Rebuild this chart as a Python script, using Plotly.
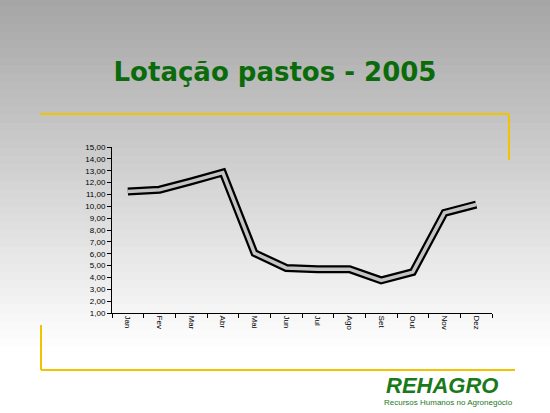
import plotly.graph_objects as go

months = ["Jan", "Fev", "Mar", "Abr", "Mai", "Jun", "Jul", "Ago", "Set", "Out", "Nov", "Dez"]
lotacao = [11.25, 11.4, 12.1, 12.85, 6.05, 4.8, 4.7, 4.7, 3.75, 4.45, 9.45, 10.15]
y_ticks = list(range(1, 16))
y_labels = [f"{v},00" for v in y_ticks]

W, H = 550, 413
L, R, T, B = 112, 58, 147, 100

fig = go.Figure()
# double line: thick black outline with light inner stroke
fig.add_trace(go.Scatter(x=months, y=lotacao, mode="lines",
                         line=dict(color="black", width=8), hoverinfo="skip"))
fig.add_trace(go.Scatter(x=months, y=lotacao, mode="lines",
                         line=dict(color="#c4c4c4", width=3.5)))


def px_x(x):
    return (x - L) / (W - L - R)


def px_y(y):
    return (H - B - y) / (H - B - T)


# vertical background gradient (grey to white)
shapes = []
n = 50
step = H / n
for i in range(n):
    f = min(1.0, (i / (n - 1)) / 0.85)
    c = int(166 + (255 - 166) * f)
    shapes.append(dict(type="rect", xref="paper", yref="paper", layer="below",
                       x0=px_x(-5), x1=px_x(W + 5),
                       y0=px_y((i + 1) * step + 1), y1=px_y(i * step - 1),
                       fillcolor=f"rgb({c},{c},{c})", line=dict(width=0)))

yellow = dict(color="#f2c400", width=2)
for (x0, y0, x1, y1) in [(40, 114, 509, 114), (509, 114, 509, 160),
                         (41, 325, 41, 370), (41, 370, 515, 370)]:
    shapes.append(dict(type="line", xref="paper", yref="paper",
                       x0=px_x(x0), y0=px_y(y0), x1=px_x(x1), y1=px_y(y1), line=yellow))

fig.update_layout(
    width=W, height=H, showlegend=False,
    margin=dict(l=L, r=R, t=T, b=B),
    paper_bgcolor="white", plot_bgcolor="rgba(0,0,0,0)",
    shapes=shapes,
    title=dict(text="<b>Lotação pastos - 2005</b>", x=275 / W, xref="container",
               y=1 - 72 / H, yanchor="middle", xanchor="center",
               font=dict(family="Comic Sans MS, DejaVu Sans", size=26, color="#0b6b0b")),
    annotations=[
        dict(text="<b><i>REHAGRO</i></b>", xref="paper", yref="paper", x=px_x(442), y=px_y(385),
             xanchor="center", yanchor="middle",
             showarrow=False, font=dict(family="Liberation Sans", size=22, color="#1a7a1a")),
        dict(text="Recursos Humanos no Agronegócio", xref="paper", yref="paper",
             x=px_x(448), y=px_y(402), xanchor="center", yanchor="middle", showarrow=False,
             font=dict(family="Liberation Sans", size=8, color="#1a7a1a")),
    ],
)
fig.update_xaxes(range=[-0.5, len(months) - 0.5],
                 showline=True, linecolor="black", linewidth=1, ticks="outside",
                 tickson="boundaries", ticklen=4, tickcolor="black", tickangle=90,
                 tickfont=dict(family="Liberation Sans", size=8, color="black"),
                 showgrid=False, zeroline=False)
fig.update_yaxes(range=[1, 15], tickvals=y_ticks, ticktext=y_labels,
                 showline=True, linecolor="black", linewidth=1, ticks="outside",
                 ticklen=4, tickcolor="black",
                 tickfont=dict(family="Liberation Sans", size=8, color="black"),
                 showgrid=False, zeroline=False)

fig.write_html("out.html", config={"displayModeBar": False},
               post_script="document.body.style.margin='0';")
